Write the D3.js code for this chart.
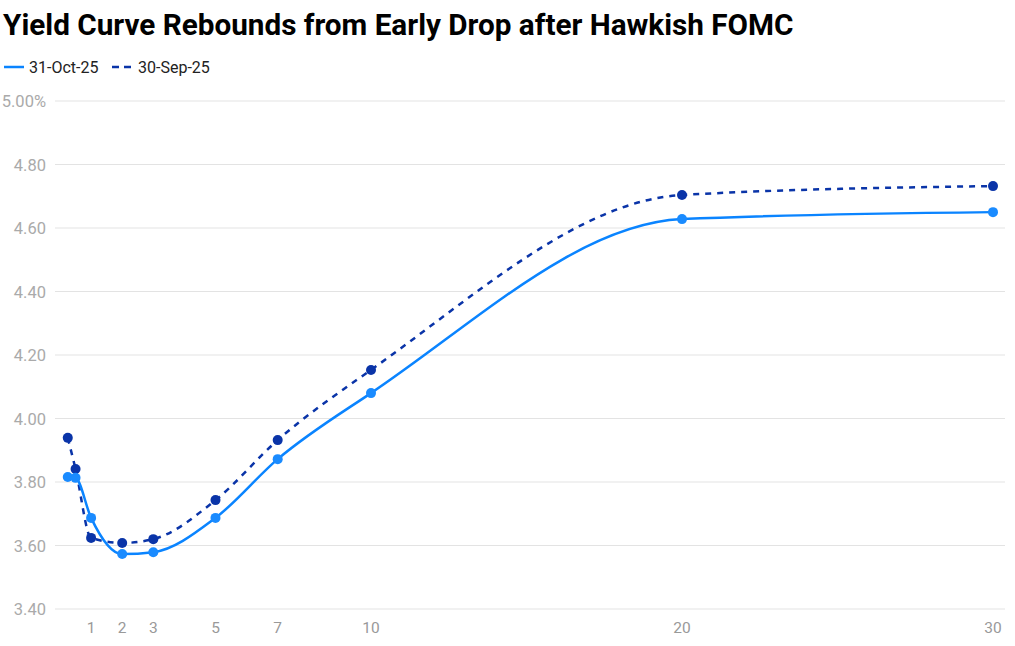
<!DOCTYPE html>
<html><head><meta charset="utf-8">
<script src="https://cdn.jsdelivr.net/npm/d3@7"></script>
<style>body{margin:0;background:#fff;}svg{display:block;font-family:Roboto,"Noto Sans",sans-serif;}</style>
</head><body><svg id="c" width="1015" height="646"></svg>
<script>
const tenors = [0.25, 0.5, 1, 2, 3, 5, 7, 10, 20, 30];
const oct25 = [3.816, 3.813, 3.687, 3.573, 3.579, 3.687, 3.872, 4.080, 4.628, 4.650];
const sep25 = [3.939, 3.841, 3.624, 3.608, 3.620, 3.743, 3.932, 4.153, 4.704, 4.732];
const xTicks = [1, 2, 3, 5, 7, 10, 20, 30];
const yTicks = [3.4, 3.6, 3.8, 4.0, 4.2, 4.4, 4.6, 4.8, 5.0];
const seriesNames = ["31-Oct-25", "30-Sep-25"];

const svg = d3.select("#c");
const x = d3.scaleLinear().domain([0, 30]).range([60, 993]);
const y = d3.scaleLinear().domain([3.4, 5.0]).range([609, 101]);

svg.append("text").attr("x", 3).attr("y", 35).attr("font-size", 29.7).attr("font-weight", 700)
  .attr("fill", "#000").text("Yield Curve Rebounds from Early Drop after Hawkish FOMC");

// grid + y labels
const gy = svg.append("g");
yTicks.forEach((t, i) => {
  gy.append("line").attr("x1", 55).attr("x2", 1005).attr("y1", y(t)).attr("y2", y(t))
    .attr("stroke", "#e3e3e3").attr("stroke-width", 1);
  gy.append("text").attr("x", 46).attr("y", y(t) + 6).attr("text-anchor", "end")
    .attr("font-size", 16.5).attr("fill", "#aaaaaa")
    .text(i === yTicks.length - 1 ? d3.format(".2f")(t) + "%" : d3.format(".2f")(t));
});
// x labels
xTicks.forEach(t => {
  svg.append("text").attr("x", x(t)).attr("y", 633).attr("text-anchor", "middle")
    .attr("font-size", 15.5).attr("fill", "#999999").text(t);
});

const line = d3.line().curve(d3.curveMonotoneX).x(d => x(d[0])).y(d => y(d[1]));
const series = [
  {name: seriesNames[0], vals: oct25, color: "#0a84ff", pt: "#1a8bff", dash: null},
  {name: seriesNames[1], vals: sep25, color: "#0a34a8", pt: "#0a34a8", dash: "6,6"}
];
series.slice().reverse().forEach(s => {
  const data = tenors.map((t, i) => [t, s.vals[i]]);
  svg.append("path").attr("d", line(data)).attr("fill", "none").attr("stroke", s.color)
    .attr("stroke-width", 2.5).attr("stroke-dasharray", s.dash);
  svg.append("g").selectAll("circle").data(data).join("circle")
    .attr("cx", d => x(d[0])).attr("cy", d => y(d[1])).attr("r", 5).attr("fill", s.pt);
});

// legend
const lg = svg.append("g");
lg.append("line").attr("x1", 4).attr("x2", 24).attr("y1", 67).attr("y2", 67)
  .attr("stroke", series[0].color).attr("stroke-width", 2.5);
lg.append("text").attr("x", 29).attr("y", 72.5).attr("font-size", 16).attr("fill", "#222").text(seriesNames[0]);
lg.append("line").attr("x1", 112).attr("x2", 131).attr("y1", 67).attr("y2", 67)
  .attr("stroke", series[1].color).attr("stroke-width", 2.5).attr("stroke-dasharray", "7,5");
lg.append("text").attr("x", 138).attr("y", 72.5).attr("font-size", 16).attr("fill", "#222").text(seriesNames[1]);
</script></body></html>
